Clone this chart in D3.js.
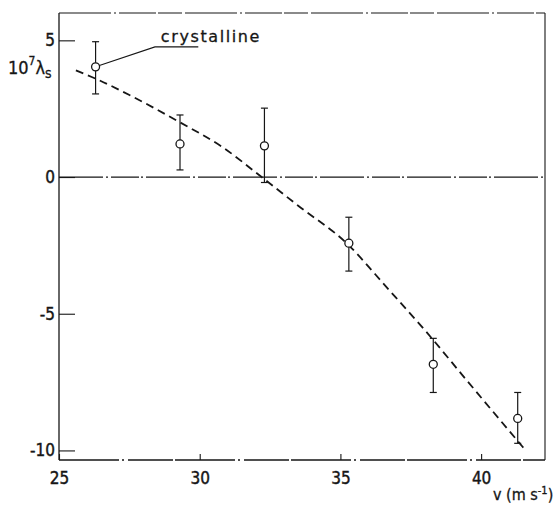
<!DOCTYPE html>
<html lang="en">
<head>
<meta charset="UTF-8">
<title>lambda_s vs v</title>
<script src="https://d3js.org/d3.v7.min.js"></script>
<style>
  body { margin: 0; padding: 0; background: #ffffff; }
  svg { display: block; }
  text { font-family: "DejaVu Sans Condensed", "DejaVu Sans", sans-serif; fill: #161616; }
</style>
</head>
<body>
<div id="chart"></div>
<script>
// measured points (v in m/s, 10^7 * lambda_s)
const velocity = [26.3, 29.3, 32.3, 35.3, 38.3, 41.3];
const lambdaS  = [4.03, 1.21, 1.14, -2.42, -6.85, -8.83];
const errTop   = [4.95, 2.27, 2.52, -1.47, -5.90, -7.88];
const errBot   = [3.04, 0.26, -0.20, -3.44, -7.88, -9.74];

// dashed trend curve
const curveV = [25.6, 26.3, 27.5, 29.3, 30.8, 32.2, 33.5, 35.2, 36.7, 38.0, 39.5, 41.5];
const curveL = [3.9, 3.6, 3.0, 2.0, 1.1, 0.0, -1.05, -2.4, -4.1, -5.6, -7.45, -9.9];

const xTicks = [25, 30, 35, 40];
const yTicks = [5, 0, -5, -10];

// "crystalline" leader: elbow, end of underline, text start (data units)
const leaderV = [28.41, 29.95];
const leaderL = [4.76, 4.76];
const labelPos = [28.62, 4.95];

const width = 557, height = 506;
const svg = d3.select("#chart").append("svg")
    .attr("width", width)
    .attr("height", height);

const x = d3.scaleLinear().domain([25, 42.27]).range([59, 545]);
const y = d3.scaleLinear().domain([-10.35, 6.0]).range([460, 13]);

const ink = "#161616";
const font = '"DejaVu Sans Condensed", "DejaVu Sans", sans-serif';

// frame
const [x0, x1] = x.range();
const [yb, yt] = y.range();
svg.append("line").attr("x1", x0).attr("x2", x0).attr("y1", yt).attr("y2", yb)
    .attr("stroke", ink).attr("stroke-width", 1.3);
svg.append("line").attr("x1", x1).attr("x2", x1).attr("y1", yt).attr("y2", yb)
    .attr("stroke", ink).attr("stroke-width", 1.1);
svg.append("line").attr("x1", x0).attr("x2", x1).attr("y1", yt).attr("y2", yt)
    .attr("stroke", ink).attr("stroke-width", 1.1).attr("stroke-dasharray", "52,3,2,3,37,2,24,3");
svg.append("line").attr("x1", x0).attr("x2", x1).attr("y1", yb).attr("y2", yb)
    .attr("stroke", ink).attr("stroke-width", 1.3).attr("stroke-dasharray", "60,3,2,4,45,2");
// zero line
svg.append("line").attr("x1", x0).attr("x2", x1).attr("y1", y(0)).attr("y2", y(0))
    .attr("stroke", ink).attr("stroke-width", 1.2).attr("stroke-dasharray", "44,3,2,3,28,2,2,3");

// axes
const yAxis = d3.axisLeft(y).tickValues(yTicks).tickSizeInner(-16).tickSizeOuter(0)
    .tickPadding(4).tickFormat(d => d);
const gy = svg.append("g").attr("transform", `translate(${x0},0)`).call(yAxis);
gy.select(".domain").remove();
gy.selectAll("line").attr("stroke", ink).attr("stroke-width", 1.1);
gy.selectAll("text").attr("font-size", 17).attr("fill", ink)
    .attr("stroke", ink).attr("stroke-width", 0.4)
    .style("font-family", font);

const xAxis = d3.axisBottom(x).tickValues(xTicks).tickSizeInner(-6).tickSizeOuter(0)
    .tickPadding(12).tickFormat(d => d);
const gx = svg.append("g").attr("transform", `translate(0,${yb})`).call(xAxis);
gx.select(".domain").remove();
gx.selectAll("line").attr("stroke", ink).attr("stroke-width", 1.1);
gx.selectAll("text").attr("font-size", 17).attr("fill", ink)
    .attr("stroke", ink).attr("stroke-width", 0.4)
    .style("font-family", font);

// dashed curve
const curve = curveV.map((v, i) => [v, curveL[i]]);
svg.append("path")
    .attr("d", d3.line().x(d => x(d[0])).y(d => y(d[1])).curve(d3.curveMonotoneX)(curve))
    .attr("fill", "none")
    .attr("stroke", ink)
    .attr("stroke-width", 1.8)
    .attr("stroke-dasharray", "8,5");

// error bars and points
const pts = velocity.map((v, i) => ({ v, l: lambdaS[i], hi: errTop[i], lo: errBot[i] }));
const g = svg.append("g");
g.selectAll("line.err").data(pts).join("line")
    .attr("class", "err")
    .attr("x1", d => x(d.v)).attr("x2", d => x(d.v))
    .attr("y1", d => y(d.hi)).attr("y2", d => y(d.lo))
    .attr("stroke", ink).attr("stroke-width", 1.2);
g.selectAll("line.capT").data(pts).join("line")
    .attr("class", "capT")
    .attr("x1", d => x(d.v) - 3.5).attr("x2", d => x(d.v) + 3.5)
    .attr("y1", d => y(d.hi)).attr("y2", d => y(d.hi))
    .attr("stroke", ink).attr("stroke-width", 1.2);
g.selectAll("line.capB").data(pts).join("line")
    .attr("class", "capB")
    .attr("x1", d => x(d.v) - 3.5).attr("x2", d => x(d.v) + 3.5)
    .attr("y1", d => y(d.lo)).attr("y2", d => y(d.lo))
    .attr("stroke", ink).attr("stroke-width", 1.2);
g.selectAll("circle").data(pts).join("circle")
    .attr("cx", d => x(d.v)).attr("cy", d => y(d.l))
    .attr("r", 4)
    .attr("fill", "#fff")
    .attr("stroke", ink).attr("stroke-width", 1.3);

// "crystalline" annotation
const p0 = pts[0];
const ang = Math.atan2(y(leaderL[0]) - y(p0.l), x(leaderV[0]) - x(p0.v));
svg.append("polyline")
    .attr("points", [
        [x(p0.v) + 4 * Math.cos(ang), y(p0.l) + 4 * Math.sin(ang)],
        [x(leaderV[0]), y(leaderL[0])],
        [x(leaderV[1]), y(leaderL[1])]
    ].join(" "))
    .attr("fill", "none").attr("stroke", ink).attr("stroke-width", 1.1);
svg.append("text")
    .attr("x", x(labelPos[0])).attr("y", y(labelPos[1]))
    .attr("font-size", 16).attr("letter-spacing", 1.6)
    .attr("stroke", ink).attr("stroke-width", 0.3)
    .style("font-family", '"DejaVu Sans", sans-serif')
    .text("crystalline");

// y-axis label 10^7 λ_s
const yl = svg.append("text").attr("x", 8).attr("y", 74).attr("font-size", 18)
    .attr("stroke", ink).attr("stroke-width", 0.3);
yl.append("tspan").text("10");
yl.append("tspan").attr("font-size", 12).attr("dy", -9).text("7");
yl.append("tspan").attr("dy", 9).text("λ");
yl.append("tspan").attr("font-size", 14).attr("dy", 4).text("s");

// x-axis label v (m s^-1)
const xl = svg.append("text").attr("x", 493).attr("y", 500).attr("font-size", 16)
    .attr("stroke", ink).attr("stroke-width", 0.3);
xl.append("tspan").text("v (m s");
xl.append("tspan").attr("font-size", 11).attr("dy", -6).text("-1");
xl.append("tspan").attr("dy", 6).text(")");
</script>
</body>
</html>
